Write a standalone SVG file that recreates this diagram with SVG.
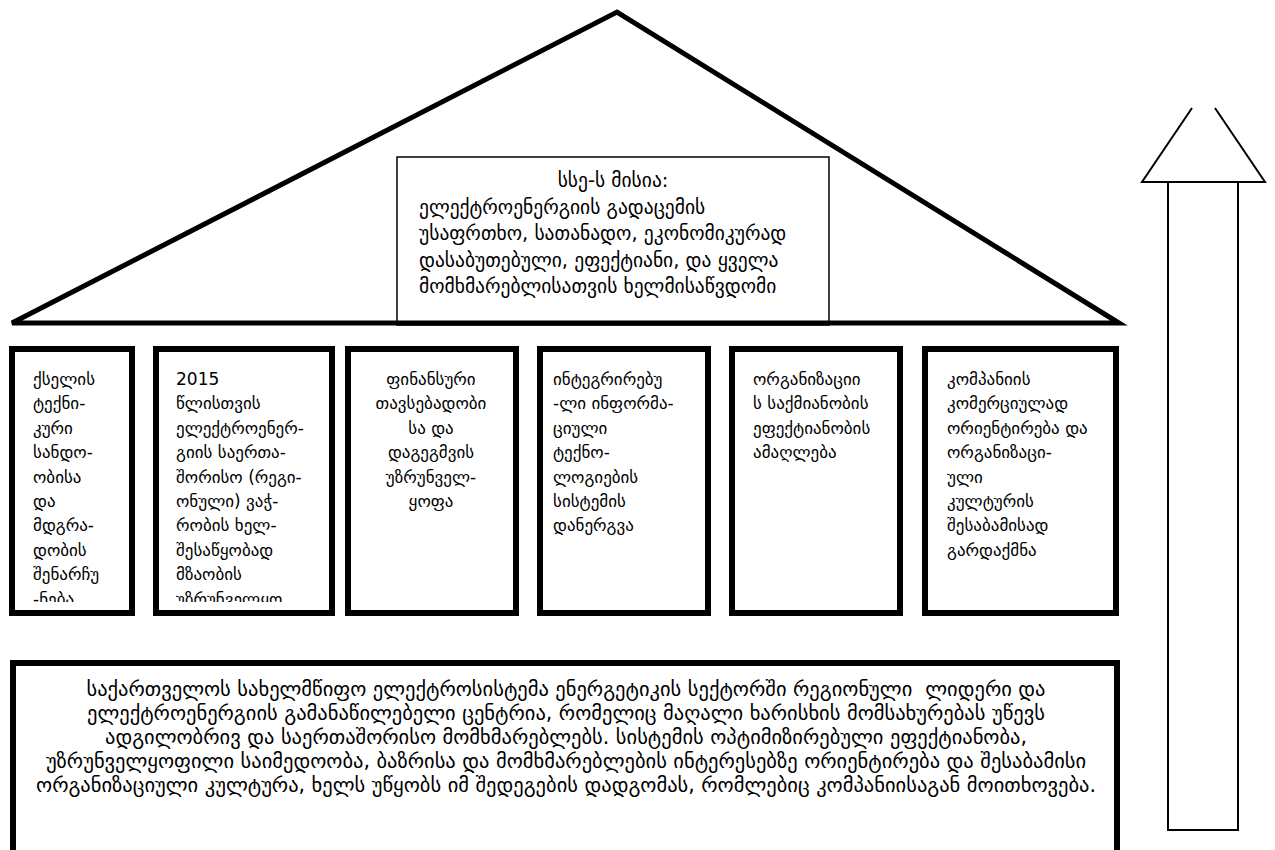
<svg xmlns="http://www.w3.org/2000/svg" width="1275" height="850" viewBox="0 0 1275 850">
<style>
.pillar{fill:#fff;stroke:#000;stroke-width:6}
.t{font-family:"DejaVu Sans",sans-serif;font-size:17px;fill:#000}
.m{font-family:"DejaVu Sans",sans-serif;font-size:19.5px;fill:#000}
.b{font-family:"DejaVu Sans",sans-serif;font-size:20.5px;fill:#000}
.thin{fill:#fff;stroke:#000;stroke-width:1.5}
</style>
<defs>
<clipPath id="c1"><rect x="15" y="352" width="114" height="250"/></clipPath>
<clipPath id="c2"><rect x="159" y="352" width="170" height="250"/></clipPath>
</defs>
<rect width="1275" height="850" fill="#fff"/>

<g id="roof">
<rect class="thin" x="397" y="157" width="432" height="168"/>
<polygon points="12,323 617,12 1119,323" fill="none" stroke="#000" stroke-width="5" stroke-linejoin="miter"/>
<text class="m" x="613" y="187" text-anchor="middle">სსე-ს მისია:</text>
<text class="m" x="419" y="214">ელექტროენერგიის გადაცემის</text>
<text class="m" x="419" y="240">უსაფრთხო, სათანადო, ეკონომიკურად</text>
<text class="m" x="419" y="267">დასაბუთებული, ეფექტიანი, და ყველა</text>
<text class="m" x="419" y="293">მომხმარებლისათვის ხელმისაწვდომი</text>
</g>

<g id="pillar1">
<rect class="pillar" x="12" y="349" width="120" height="264"/>
<g clip-path="url(#c1)" class="t">
<text x="33" y="385">ქსელის</text>
<text x="33" y="409.4">ტექნი-</text>
<text x="33" y="433.8">კური</text>
<text x="33" y="458.2">სანდო-</text>
<text x="33" y="482.6">ობისა</text>
<text x="33" y="507">და</text>
<text x="33" y="531.4">მდგრა-</text>
<text x="33" y="555.8">დობის</text>
<text x="33" y="580.2">შენარჩუ</text>
<text x="33" y="604.6">-ნება</text>
</g>
</g>

<g id="pillar2">
<rect class="pillar" x="156" y="349" width="176" height="264"/>
<g clip-path="url(#c2)" class="t">
<text x="176" y="385">2015</text>
<text x="176" y="409.4">წლისთვის</text>
<text x="176" y="433.8">ელექტროენერ-</text>
<text x="176" y="458.2">გიის საერთა-</text>
<text x="176" y="482.6">შორისო (რეგი-</text>
<text x="176" y="507">ონული) ვაჭ-</text>
<text x="176" y="531.4">რობის ხელ-</text>
<text x="176" y="555.8">შესაწყობად</text>
<text x="176" y="580.2">მზაობის</text>
<text x="176" y="604.6">უზრუნველყო</text>
</g>
</g>

<g id="pillar3">
<rect class="pillar" x="348" y="349" width="168" height="264"/>
<g class="t" text-anchor="middle">
<text x="431" y="385">ფინანსური</text>
<text x="431" y="409.4">თავსებადობი</text>
<text x="431" y="433.8">სა და</text>
<text x="431" y="458.2">დაგეგმვის</text>
<text x="431" y="482.6">უზრუნველ-</text>
<text x="431" y="507">ყოფა</text>
</g>
</g>

<g id="pillar4">
<rect class="pillar" x="540" y="349" width="168" height="264"/>
<g class="t">
<text x="553" y="385">ინტეგრირებუ</text>
<text x="553" y="409.4">-ლი ინფორმა-</text>
<text x="553" y="433.8">ციული</text>
<text x="553" y="458.2">ტექნო-</text>
<text x="553" y="482.6">ლოგიების</text>
<text x="553" y="507">სისტემის</text>
<text x="553" y="531.4">დანერგვა</text>
</g>
</g>

<g id="pillar5">
<rect class="pillar" x="732" y="349" width="168" height="264"/>
<g class="t">
<text x="753" y="385">ორგანიზაციი</text>
<text x="753" y="409.4">ს საქმიანობის</text>
<text x="753" y="433.8">ეფექტიანობის</text>
<text x="753" y="458.2">ამაღლება</text>
</g>
</g>

<g id="pillar6">
<rect class="pillar" x="925" y="349" width="191" height="264"/>
<g class="t">
<text x="947" y="385">კომპანიის</text>
<text x="947" y="409.4">კომერციულად</text>
<text x="947" y="433.8">ორიენტირება და</text>
<text x="947" y="458.2">ორგანიზაცი-</text>
<text x="947" y="482.6">ული</text>
<text x="947" y="507">კულტურის</text>
<text x="947" y="531.4">შესაბამისად</text>
<text x="947" y="555.8">გარდაქმნა</text>
</g>
</g>

<g id="vision">
<rect class="pillar" x="13" y="663" width="1104" height="200"/>
<g class="b" text-anchor="middle">
<text x="566" y="696" style="white-space:pre">საქართველოს სახელმწიფო ელექტროსისტემა ენერგეტიკის სექტორში რეგიონული  ლიდერი და</text>
<text x="566" y="720">ელექტროენერგიის გამანაწილებელი ცენტრია, რომელიც მაღალი ხარისხის მომსახურებას უწევს</text>
<text x="566" y="744">ადგილობრივ და საერთაშორისო მომხმარებლებს. სისტემის ოპტიმიზირებული ეფექტიანობა,</text>
<text x="566" y="768">უზრუნველყოფილი საიმედოობა, ბაზრისა და მომხმარებლების ინტერესებზე ორიენტირება და შესაბამისი</text>
<text x="566" y="792">ორგანიზაციული კულტურა, ხელს უწყობს იმ შედეგების დადგომას, რომლებიც კომპანიისაგან მოითხოვება.</text>
</g>
</g>

<g id="arrow" fill="none" stroke="#000" stroke-width="2">
<polyline points="1192,108 1142,182 1265,182 1215,108"/>
<polyline points="1168,182 1168,830 1238,830 1238,182"/>
</g>
</svg>
